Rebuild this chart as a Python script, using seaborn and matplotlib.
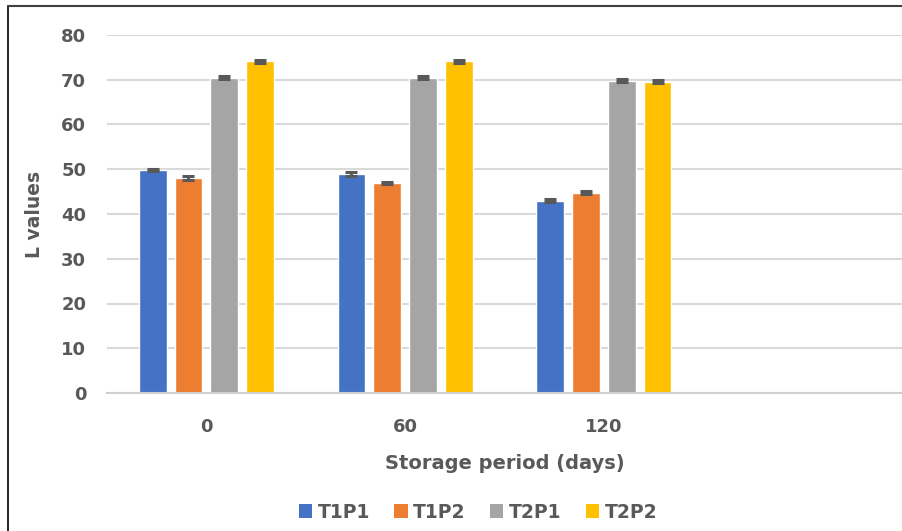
import matplotlib
matplotlib.use("Agg")
import matplotlib.pyplot as plt
import seaborn as sns
import pandas as pd
from matplotlib.lines import Line2D
from matplotlib.patches import Patch

periods = ["0", "60", "120"]
treatments = ["T1P1", "T1P2", "T2P1", "T2P2"]
t1p1 = [49.8, 49.0, 43.0]
t1p2 = [48.1, 46.9, 44.8]
t2p1 = [70.5, 70.5, 69.8]
t2p2 = [74.1, 74.1, 69.6]
err_t1p1 = [0.3, 0.4, 0.4]
err_t1p2 = [0.4, 0.3, 0.4]
err_t2p1 = [0.3, 0.3, 0.3]
err_t2p2 = [0.3, 0.3, 0.3]
colors = ["#4472C4", "#ED7D31", "#A5A5A5", "#FFC000"]

series = {"T1P1": t1p1, "T1P2": t1p2, "T2P1": t2p1, "T2P2": t2p2}
errs = {"T1P1": err_t1p1, "T1P2": err_t1p2, "T2P1": err_t2p1, "T2P2": err_t2p2}
rows = []
for t in treatments:
    for p, v in zip(periods, series[t]):
        rows.append({"period": p, "treatment": t, "value": v})
df = pd.DataFrame(rows)

sns.set_style("white")
plt.rcParams["font.family"] = ["DejaVu Sans"]
fig = plt.figure(figsize=(9.03, 5.31), dpi=100)
ax = fig.add_axes([107/903, 1 - 393/531, (902-107)/903, (393-35)/531])

sns.barplot(data=df, x="period", y="value", hue="treatment", order=periods,
            hue_order=treatments, palette=colors, width=0.72, gap=0.22,
            errorbar=None, ax=ax, legend=False, saturation=1)

# error bars at bar centres
for cont, t in zip(ax.containers, treatments):
    xs = [b.get_x() + b.get_width() / 2 for b in cont]
    ax.errorbar(xs, series[t], yerr=errs[t], fmt="none", ecolor="#595959",
                elinewidth=2.2, capsize=4.5, capthick=2.2, zorder=5)

ax.set_xlim(-0.5, 3.5)
ax.set_ylim(0, 80)
ax.set_yticks(range(0, 81, 10))
ax.set_xticks([0, 1, 2])
ax.set_xticklabels(periods)
ax.yaxis.grid(True, color="#D9D9D9", linewidth=1.5, zorder=0)
ax.set_axisbelow(True)
for s in ["top", "right", "left"]:
    ax.spines[s].set_visible(False)
ax.spines["bottom"].set_color("#D0D0D0")
ax.spines["bottom"].set_linewidth(1.5)
ax.tick_params(axis="both", length=0, labelsize=13, labelcolor="#595959")
ax.tick_params(axis="y", pad=15)
ax.tick_params(axis="x", pad=18)
for lab in ax.get_xticklabels() + ax.get_yticklabels():
    lab.set_fontweight("bold")

ax.set_ylabel("L values", fontsize=13.5, fontweight="bold", color="#595959", labelpad=12)
ax.set_xlabel("Storage period (days)", fontsize=14, fontweight="bold", color="#595959", labelpad=13)

handles = [Patch(facecolor=c, edgecolor="none") for c in colors]
leg = fig.legend(handles, treatments, loc="center", bbox_to_anchor=(478/903, 1 - 512/531),
                 ncol=4, frameon=False, handlelength=0.7, handleheight=0.7,
                 handletextpad=0.3, columnspacing=1.3,
                 prop={"size": 13.5, "weight": "bold"})
for txt in leg.get_texts():
    txt.set_color("#595959")

# figure border (left and top)
fig.add_artist(Line2D([8/903, 8/903], [0, 1 - 6/531], transform=fig.transFigure, color="black", linewidth=1.2))
fig.add_artist(Line2D([8/903, 1], [1 - 6/531, 1 - 6/531], transform=fig.transFigure, color="#404040", linewidth=1.5))

fig.savefig("out.png", dpi=100)
